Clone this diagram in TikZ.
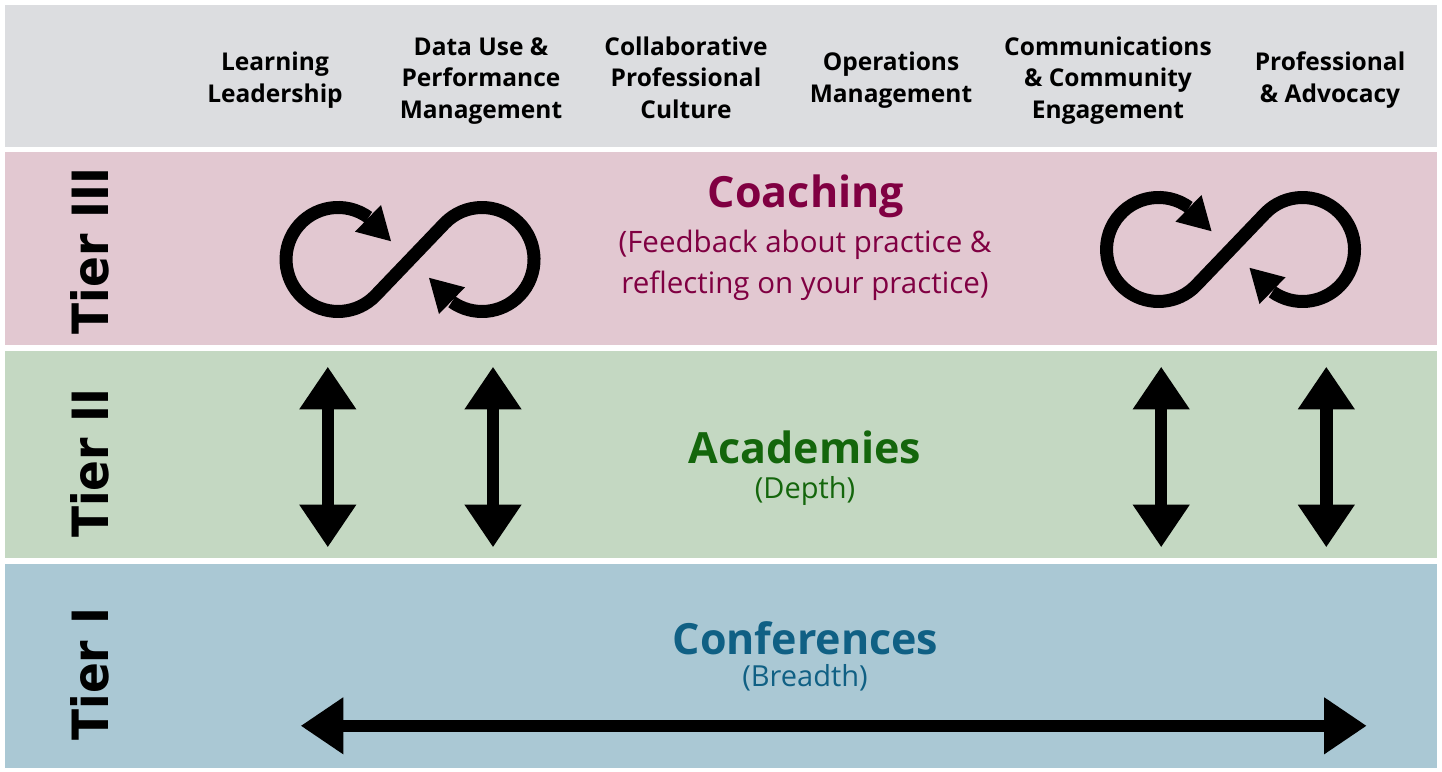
\documentclass[tikz,border=0pt]{standalone}
\usepackage{fontspec}
\setmainfont{Open Sans}
\newfontfamily\tierfont{DejaVu Sans}
\usetikzlibrary{arrows.meta}
\definecolor{hdrgray}{RGB}{220,221,224}
\definecolor{tierpink}{RGB}{226,200,209}
\definecolor{tiergreen}{RGB}{196,216,194}
\definecolor{tierblue}{RGB}{170,200,212}
\definecolor{coachcol}{RGB}{128,0,66}
\definecolor{acadcol}{RGB}{20,102,12}
\definecolor{confcol}{RGB}{16,96,132}
\tikzset{
  hdrtext/.style={align=center, inner sep=0pt, font=\fontsize{24.5}{31.7}\selectfont\bfseries},
  titletext/.style={anchor=base, inner sep=0pt, font=\fontsize{43}{50}\selectfont\bfseries},
  subtext/.style={anchor=base, inner sep=0pt, font=\fontsize{29}{34}\selectfont},
  tierlabel/.style={anchor=base, rotate=90, inner sep=0pt, font=\tierfont\fontsize{50}{55}\selectfont\bfseries},
  dblarrow/.style={line width=12.5pt, {Triangle[width=54pt,length=42.6pt]}-{Triangle[width=54pt,length=42.6pt]}},
  infinity/.pic={
    \draw[line width=13pt] (-41.4,-42.1) arc[start angle=306, end angle=43.8, radius=52]
       -- (34.5,-36) arc[start angle=223.8, end angle=485.5, radius=52];
    \fill (-55,-27.8) -- (-19,-18.3) -- (-29,-54.5) -- cycle;
    \fill (55,27.8) -- (19,18.3) -- (29,54.5) -- cycle;
  }
}
\begin{document}
\begin{tikzpicture}[x=1pt,y=-1pt]
\useasboundingbox (0,0) rectangle (1442,771);
\fill[white] (0,0) rectangle (1442,771);
% bands
\fill[hdrgray] (5,5) rectangle (1437,147);
\fill[tierpink] (5,152) rectangle (1437,345);
\fill[tiergreen] (5,351) rectangle (1437,558);
\fill[tierblue] (5,564) rectangle (1437,768);
% header texts
\node[hdrtext] (h1) at (275,80.4) {\strut Learning\\Leadership\strut};
\node[hdrtext] (h2) at (481,80.4) {\strut Data Use \&\\Performance\\Management\strut};
\node[hdrtext] (h3) at (686,80.4) {\strut Collaborative\\Professional\\Culture\strut};
\node[hdrtext] (h4) at (891,80.4) {\strut Operations\\Management\strut};
\node[hdrtext] (h5) at (1108,80.4) {\strut Communications\\\& Community\\Engagement\strut};
\node[hdrtext] (h6) at (1330,80.4) {\strut Professional\\\& Advocacy\strut};
% tier labels
\node[tierlabel] (t3) at (108,250.8) {\scalebox{0.91}[1]{Tier III}};
\node[tierlabel] (t2) at (108,463) {\scalebox{0.91}[1]{Tier II}};
\node[tierlabel] (t1) at (108,674.2) {\scalebox{0.91}[1]{Tier I}};
% tier III
\node[titletext, text=coachcol] (coach) at (806,207) {Coaching};
\node[align=center, inner sep=0pt, text=coachcol, font=\fontsize{29.5}{41}\selectfont] (coachsub) at (805,265) {\strut(Feedback about practice \&\\reflecting on your practice)\strut};
\pic (inf1) at (410,259.5) {infinity};
\pic (inf2) at (1230.5,249.5) {infinity};
% tier II
\node[titletext, text=acadcol] (acad) at (805,463.3) {Academies};
\node[subtext, text=acadcol] (acadsub) at (805,498.5) {(Depth)};
\coordinate (a1t) at (327.8,366.7); \coordinate (a1b) at (327.8,547.3);
\coordinate (a2t) at (493,366.7);   \coordinate (a2b) at (493,547.3);
\coordinate (a3t) at (1161.2,366.7); \coordinate (a3b) at (1161.2,547.3);
\coordinate (a4t) at (1326.3,366.7); \coordinate (a4b) at (1326.3,547.3);
\draw[dblarrow] (a1t) -- (a1b);
\draw[dblarrow] (a2t) -- (a2b);
\draw[dblarrow] (a3t) -- (a3b);
\draw[dblarrow] (a4t) -- (a4b);
% tier I
\node[titletext, text=confcol] (conf) at (805.5,654) {Conferences};
\node[subtext, text=confcol] (confsub) at (805,686) {(Breadth)};
\coordinate (hl) at (300.7,725.8); \coordinate (hr) at (1366.7,725.8);
\draw[dblarrow] (hl) -- (hr);
\end{tikzpicture}
\end{document}
